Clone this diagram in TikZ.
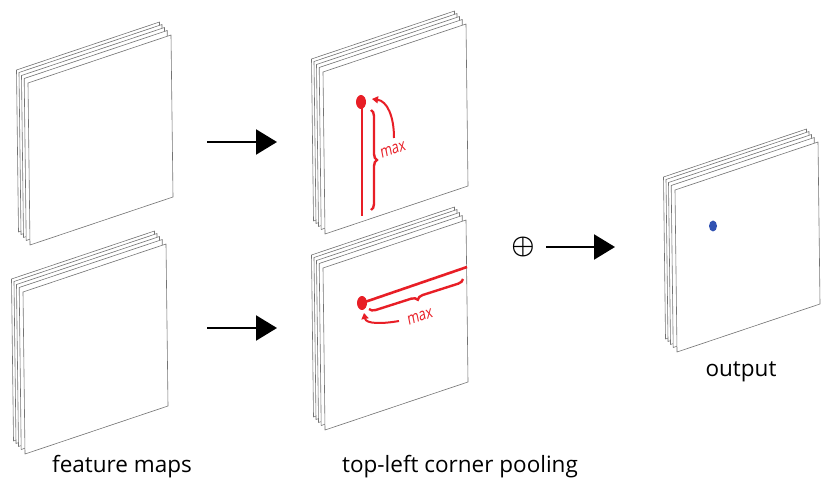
\documentclass[tikz,border=0pt]{standalone}
\usepackage{fontspec}
\usepackage{amsmath}
\setmainfont{Open Sans}
\usetikzlibrary{arrows.meta,decorations.pathreplacing}
\definecolor{pool red}{RGB}{232,30,38}
\definecolor{peak blue}{RGB}{48,82,178}
\tikzstyle{sheet} = [fill=white, draw=black!55, line width=0.6pt, line join=round]
\tikzset{flow/.style={line width=2.2pt, -{Triangle[length=21pt,width=25pt]}},
    pool/.style={draw=pool red, line width=2.6pt},
    poolbrace/.style={pool, line width=2.4pt, decorate, decoration={brace, amplitude=6pt}},
    poolarrow/.style={pool, line width=2pt, -{Triangle[length=6pt,width=7pt]}},
    maxlabel/.style={text=pool red, inner sep=0pt, font=\fontsize{17}{20}\selectfont, xscale=0.75, rotate=15},
    caption/.style={font=\fontsize{22.5}{26}\selectfont}}
% stack of five sheets, front top-left corner at (#1,#2)
\newcommand{\fmstack}[2]{%
  \foreach \dx/\dy in {-11.5/-13,-9/-10.5,-6.5/-7.5,-3.8/-4.5,0/0}
    \draw[sheet] ({#1+\dx},{#2+\dy}) -- ++(143,-48) -- ++(2,162) -- ++(-143,48) -- cycle;}

\begin{document}
\begin{tikzpicture}[x=1pt, y=-1pt]
    \useasboundingbox (0,0) rectangle (829,486);
    % Definition of the stacks
    \fmstack{28}{83}
    \fmstack{23}{292}
    \fmstack{323}{72}
    \fmstack{323}{268}
    \fmstack{675}{190}
    %
    \coordinate (topFrom) at (207,142);
    \coordinate (topTo) at (277,142);
    \coordinate (botFrom) at (207,328);
    \coordinate (botTo) at (277,328);
    \node[inner sep=0pt, scale=2.6] (sum) at (523,247) {$\boldsymbol{\oplus}$};
    \coordinate (outTo) at (615,247);
    \draw[flow] (topFrom) -- (topTo);
    \draw[flow] (botFrom) -- (botTo);
    \draw[flow] (sum.east) ++(11,0) coordinate (outFrom) -- (outTo);
    % top pooling: max over everything below
    \fill[pool red] (361,102) ellipse (5 and 7);
    \draw[pool] (362,102) -- (362,216);
    \draw[poolbrace] (371,110) -- (371,210);
    \node[maxlabel] (maxTop) at (393,150) {max};
    \draw[poolarrow] (394,138) .. controls (394,116) and (387,101) .. (372,99);
    % left pooling: max over everything to the right
    \fill[pool red] (362,303) ellipse (5 and 7);
    \draw[pool] (362,303) -- (467,267);
    \draw[poolbrace] (463,279) -- (369,309);
    \node[maxlabel] (maxBot) at (420,317) {max};
    \draw[poolarrow] (399,321) .. controls (382,324) and (366,324) .. (364,313);
    % output peak
    \fill[peak blue] (713,226) ellipse (4 and 5.5);
    % captions
    \node[caption] (fmLabel) at (122,467) {feature maps};
    \node[caption] (poolLabel) at (460,467) {top-left corner pooling};
    \node[caption] (outLabel) at (741,372) {output};
\end{tikzpicture}
\end{document}
